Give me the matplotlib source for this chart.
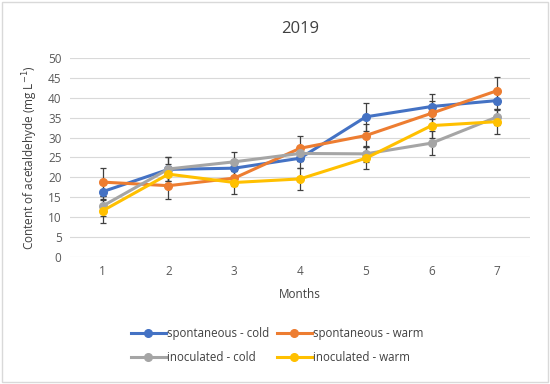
import numpy as np
import matplotlib
matplotlib.use("Agg")
from matplotlib import pyplot as plt
from matplotlib.patches import Rectangle
from matplotlib.lines import Line2D

plt.rcParams['font.family'] = ['Open Sans', 'DejaVu Sans']

months = [1, 2, 3, 4, 5, 6, 7]
spont_cold = [16.4, 22.0, 22.3, 24.8, 35.2, 37.8, 39.3]
spont_warm = [18.8, 17.9, 19.8, 27.3, 30.5, 36.1, 41.8]
inoc_cold = [12.8, 22.1, 23.9, 26.0, 25.9, 28.6, 35.2]
inoc_warm = [11.6, 20.8, 18.7, 19.6, 24.8, 33.0, 34.0]

err_spont_cold = [2.0, 3.0, 2.0, 2.5, 3.5, 3.2, 2.0]
err_spont_warm = [3.5, 3.4, 2.0, 3.2, 3.0, 3.0, 3.4]
err_inoc_cold = [2.5, 3.0, 2.4, 2.0, 2.0, 3.0, 2.0]
err_inoc_warm = [3.0, 2.5, 2.9, 2.8, 2.8, 3.0, 3.0]

labels = ['spontaneous - cold', 'spontaneous - warm', 'inoculated - cold', 'inoculated - warm']
colors = ['#4472C4', '#ED7D31', '#A5A5A5', '#FFC000']

fig = plt.figure(figsize=(5.5, 3.84), dpi=100)
ax = fig.add_axes([0.127, 0.331, 0.837, 0.518])

series = [spont_cold, spont_warm, inoc_cold, inoc_warm]
errs = [err_spont_cold, err_spont_warm, err_inoc_cold, err_inoc_warm]
handles = []
for vals, e, c, lab in zip(series, errs, colors, labels):
    ax.errorbar(months, vals, yerr=e, color=c, ecolor='#404040', elinewidth=0.9,
                capsize=2.5, capthick=0.9, lw=2.2, marker='o', markersize=5.5)
    handles.append(Line2D([], [], color=c, lw=2.2, marker='o', markersize=5.5, label=lab))

ax.set_xlim(0.5, 7.5)
ax.set_ylim(0, 50)
ax.set_yticks(np.arange(0, 51, 5))
ax.set_xticks(months)
ax.grid(axis='y', color='#D9D9D9', lw=0.8)
ax.set_axisbelow(True)
for s in ax.spines.values():
    s.set_visible(False)
ax.tick_params(length=0, labelsize=8.5, colors='#595959', pad=6)

ax.set_title('2019', fontsize=12, color='#404040', pad=18)
ax.set_xlabel('Months', fontsize=8.5, color='#404040', labelpad=7)
ax.set_ylabel('Content of acetaldehyde (mg L$^{-1}$)', fontsize=8.5, color='#404040', labelpad=6)

# legend filled row by row like the original
order = [0, 2, 1, 3]
ax.legend([handles[i] for i in order], [labels[i] for i in order],
          loc='upper center', bbox_to_anchor=(0.45, -0.30), ncol=2, frameon=False,
          fontsize=8.3, handlelength=3, columnspacing=0.7, labelcolor='#404040',
          handletextpad=0.1, labelspacing=1.0)

fig.patches.append(Rectangle((0.003, 0.005), 0.994, 0.99, transform=fig.transFigure,
                             fill=False, edgecolor='#D9D9D9', lw=1))

fig.savefig('out.png', dpi=100)
